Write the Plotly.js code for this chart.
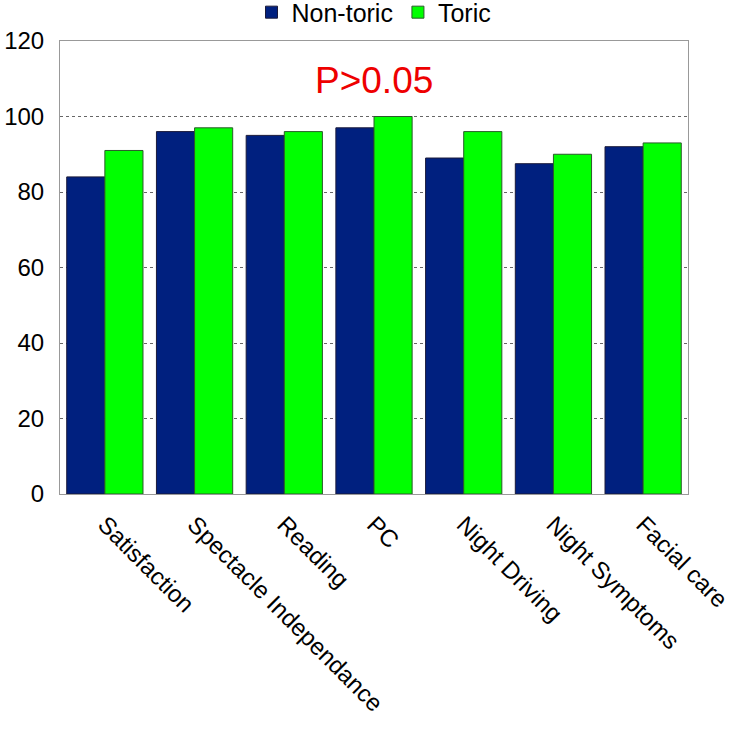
<!DOCTYPE html>
<html>
<head>
<meta charset="utf-8">
<script src="https://cdn.plot.ly/plotly-3.0.1.min.js"></script>
<style>html,body{margin:0;padding:0;background:#fff;}#chart{width:735px;height:730px;}</style>
</head>
<body>
<div id="chart"></div>
<script>
const categories = ["Satisfaction", "Spectacle Independance", "Reading", "PC", "Night Driving", "Night Symptoms", "Facial care"];
const nonToric = [84, 96, 95, 97, 89, 87.5, 92];
const toric = [91, 97, 96, 100, 96, 90, 93];
const yTicks = [0, 20, 40, 60, 80, 100, 120];

const font = "Arial, 'Liberation Sans', sans-serif";
const data = [
  {type: "bar", name: "Non-toric", x: categories, y: nonToric,
   marker: {color: "#00207F", line: {color: "#1a1a3a", width: 1}}},
  {type: "bar", name: "Toric", x: categories, y: toric,
   marker: {color: "#00FF00", line: {color: "#2a5a2a", width: 1}}}
];
const layout = {
  width: 735, height: 730,
  margin: {l: 60, r: 47, t: 41, b: 236, autoexpand: false},
  paper_bgcolor: "#fff", plot_bgcolor: "#fff",
  barmode: "group", bargap: 0.15, bargroupgap: 0,
  font: {family: font, color: "#000"},
  showlegend: true,
  legend: {orientation: "h", xref: "paper", x: 0.5, xanchor: "center",
           yref: "container", y: 0.983, yanchor: "middle",
           font: {size: 25, family: font}, tracegroupgap: 0,
           bgcolor: "rgba(0,0,0,0)"},
  xaxis: {type: "category", tickangle: 45, tickfont: {size: 24, family: font},
          ticklabelstandoff: 6,
          showline: true, linecolor: "#999", linewidth: 1, mirror: true,
          ticks: "", showgrid: false},
  yaxis: {range: [0, 120], tickvals: yTicks, ticktext: yTicks.map(String),
          tickfont: {size: 24, family: font}, ticks: "", ticklabelstandoff: 10,
          showline: true, linecolor: "#999", linewidth: 1, mirror: true,
          showgrid: true, gridcolor: "#666", griddash: "dot", gridwidth: 1,
          zeroline: false},
  annotations: [{text: "P>0.05", xref: "paper", yref: "paper", x: 0.5, y: 0.912,
                 xanchor: "center", yanchor: "middle",
                 showarrow: false, font: {size: 37, color: "#EE0000", family: font}}]
};
Plotly.newPlot("chart", data, layout, {displayModeBar: false, staticPlot: true});
</script>
</body>
</html>
